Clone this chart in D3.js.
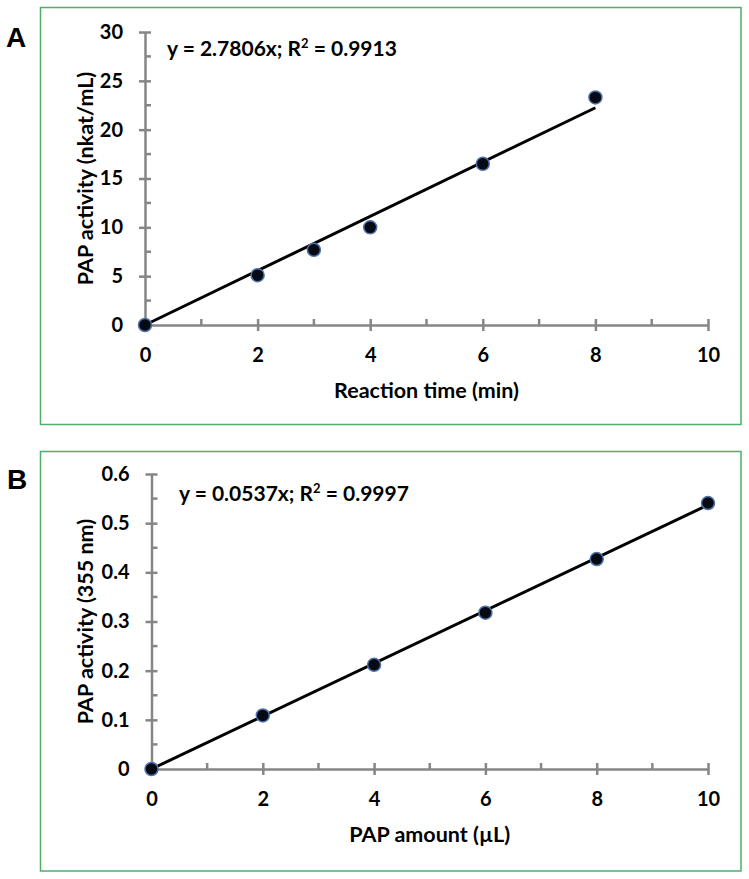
<!DOCTYPE html>
<html><head><meta charset="utf-8">
<script src="https://cdn.jsdelivr.net/npm/d3@7"></script>
<style>
body{margin:0;background:#fff;}
svg{display:block;font-family:Lato, "Open Sans", sans-serif;font-weight:bold;}
</style></head>
<body><svg id="c" width="749" height="879"></svg>
<script>
// Panel A data
const aTime = [0, 2, 3, 4, 6, 8];
const aActivity = [0, 5.1, 7.7, 10.0, 16.5, 23.3];
const aSlope = 2.7806;
const aXTicks = [0, 2, 4, 6, 8, 10];
const aYTicks = [0, 5, 10, 15, 20, 25, 30];
// Panel B data
const bAmount = [0, 2, 4, 6, 8, 10];
const bActivity = [0, 0.109, 0.212, 0.318, 0.427, 0.541];
const bSlope = 0.0537;
const bXTicks = [0, 2, 4, 6, 8, 10];
const bYTicks = [0, 0.1, 0.2, 0.3, 0.4, 0.5, 0.6];

const svg = d3.select("#c");

function panel(cfg){
  const g = svg.append("g");
  g.append("rect").attr("x", cfg.frame[0]).attr("y", cfg.frame[1])
    .attr("width", cfg.frame[2]).attr("height", cfg.frame[3])
    .attr("fill","none").attr("stroke","#4caf6a").attr("stroke-width",1.5);
  g.append("text").attr("x", cfg.letter[0]).attr("y", cfg.letter[1])
    .attr("font-family","Liberation Sans, Arial, sans-serif")
    .attr("font-size",28).attr("font-weight","bold").text(cfg.letterText);

  const x = d3.scaleLinear().domain([0,10]).range([cfg.x0, cfg.x1]);
  const y = d3.scaleLinear().domain(cfg.yDomain).range([cfg.y0, cfg.y1]);
  const axisColor = "#868686";

  const xMinor = d3.range(1, 10, 2);
  g.selectAll(null).data(xMinor).enter().append("line")
    .attr("x1", d=>x(d)).attr("x2", d=>x(d))
    .attr("y1", cfg.y0).attr("y2", cfg.y0-6)
    .attr("stroke", axisColor).attr("stroke-width",2.5);
  const step = cfg.yDomain[1]/6;
  const yMinor = d3.range(0,6).map(i=> (i+0.5)*step);
  g.selectAll(null).data(yMinor).enter().append("line")
    .attr("x1", cfg.x0).attr("x2", cfg.x0+6)
    .attr("y1", d=>y(d)).attr("y2", d=>y(d))
    .attr("stroke", axisColor).attr("stroke-width",2.5);

  const xAxis = d3.axisBottom(x).tickValues(cfg.xTicks).tickSize(6).tickSizeOuter(0).tickPadding(17).tickFormat(d3.format("d"));
  const xg = g.append("g").attr("transform",`translate(0,${cfg.y0})`).call(xAxis);
  const yAxis = d3.axisLeft(y).tickValues(cfg.yTicks).tickSize(6).tickSizeOuter(0).tickPadding(16).tickFormat(cfg.yFmt);
  const yg = g.append("g").attr("transform",`translate(${cfg.x0},0)`).call(yAxis);
  [xg, yg].forEach(a=>{
    a.select(".domain").attr("stroke", axisColor).attr("stroke-width",2.5);
    a.selectAll(".tick line").attr("stroke", axisColor).attr("stroke-width",2.5);
    a.selectAll(".tick text").attr("font-size",20).attr("font-weight","bold")
      .attr("font-family","Lato, sans-serif").attr("fill","#000");
  });
  xg.selectAll(".tick line").attr("y1",-6).attr("y2",6);
  yg.selectAll(".tick line").attr("x1",-6).attr("x2",6);
  xg.selectAll(".tick").filter(d=>d===0).select("line").remove();
  yg.selectAll(".tick").filter(d=>d===0).select("line").remove();

  const xs = cfg.xs, ys = cfg.ys;
  const xMax = d3.max(xs);
  g.append("line").attr("x1", x(0)).attr("y1", y(0))
    .attr("x2", x(xMax)).attr("y2", y(cfg.slope*xMax))
    .attr("stroke","#000").attr("stroke-width",3);

  g.selectAll(null).data(xs.map((d,i)=>[d, ys[i]])).enter().append("circle")
    .attr("cx", d=>x(d[0])).attr("cy", d=>y(d[1])).attr("r",6.5)
    .attr("fill","#050a14").attr("stroke","#4f73a8").attr("stroke-width",1.5);

  g.append("text").attr("x", cfg.eq[0]).attr("y", cfg.eq[1])
    .attr("font-size",21).attr("font-weight","bold").html(cfg.eqText);

  g.append("text").attr("x", (cfg.x0+cfg.x1)/2).attr("y", cfg.xTitleY)
    .attr("text-anchor","middle").attr("font-size",21.5).text(cfg.xTitle);
  g.append("text").attr("transform",`translate(${cfg.yTitleX},${(cfg.y0+cfg.y1)/2}) rotate(-90)`)
    .attr("text-anchor","middle").attr("font-size",21.5).text(cfg.yTitle);
}

panel({
  frame:[40.5,7.5,700.5,417], letter:[6,47], letterText:"A",
  x0:145, x1:708, y0:325, y1:32, yDomain:[0,30],
  xTicks:aXTicks, yTicks:aYTicks, yFmt:d3.format("d"),
  xs:aTime, ys:aActivity, slope:aSlope,
  eq:[167,56], eqText:"y = 2.7806x; R<tspan font-size='13' dy='-8'>2</tspan><tspan dy='8'> = 0.9913</tspan>",
  xTitle:"Reaction time (min)", xTitleY:398,
  yTitle:"PAP activity (nkat/mL)", yTitleX:93
});
panel({
  frame:[40.5,451.5,700.5,419.5], letter:[7,489], letterText:"B",
  x0:151.5, x1:708, y0:769, y1:474, yDomain:[0,0.6],
  xTicks:bXTicks, yTicks:bYTicks, yFmt:d=> d===0?"0":d3.format(".1f")(d),
  xs:bAmount, ys:bActivity, slope:bSlope,
  eq:[179,501], eqText:"y = 0.0537x; R<tspan font-size='13' dy='-8'>2</tspan><tspan dy='8'> = 0.9997</tspan>",
  xTitle:"PAP amount (µL)", xTitleY:842,
  yTitle:"PAP activity (355 nm)", yTitleX:93
});
</script></body></html>
